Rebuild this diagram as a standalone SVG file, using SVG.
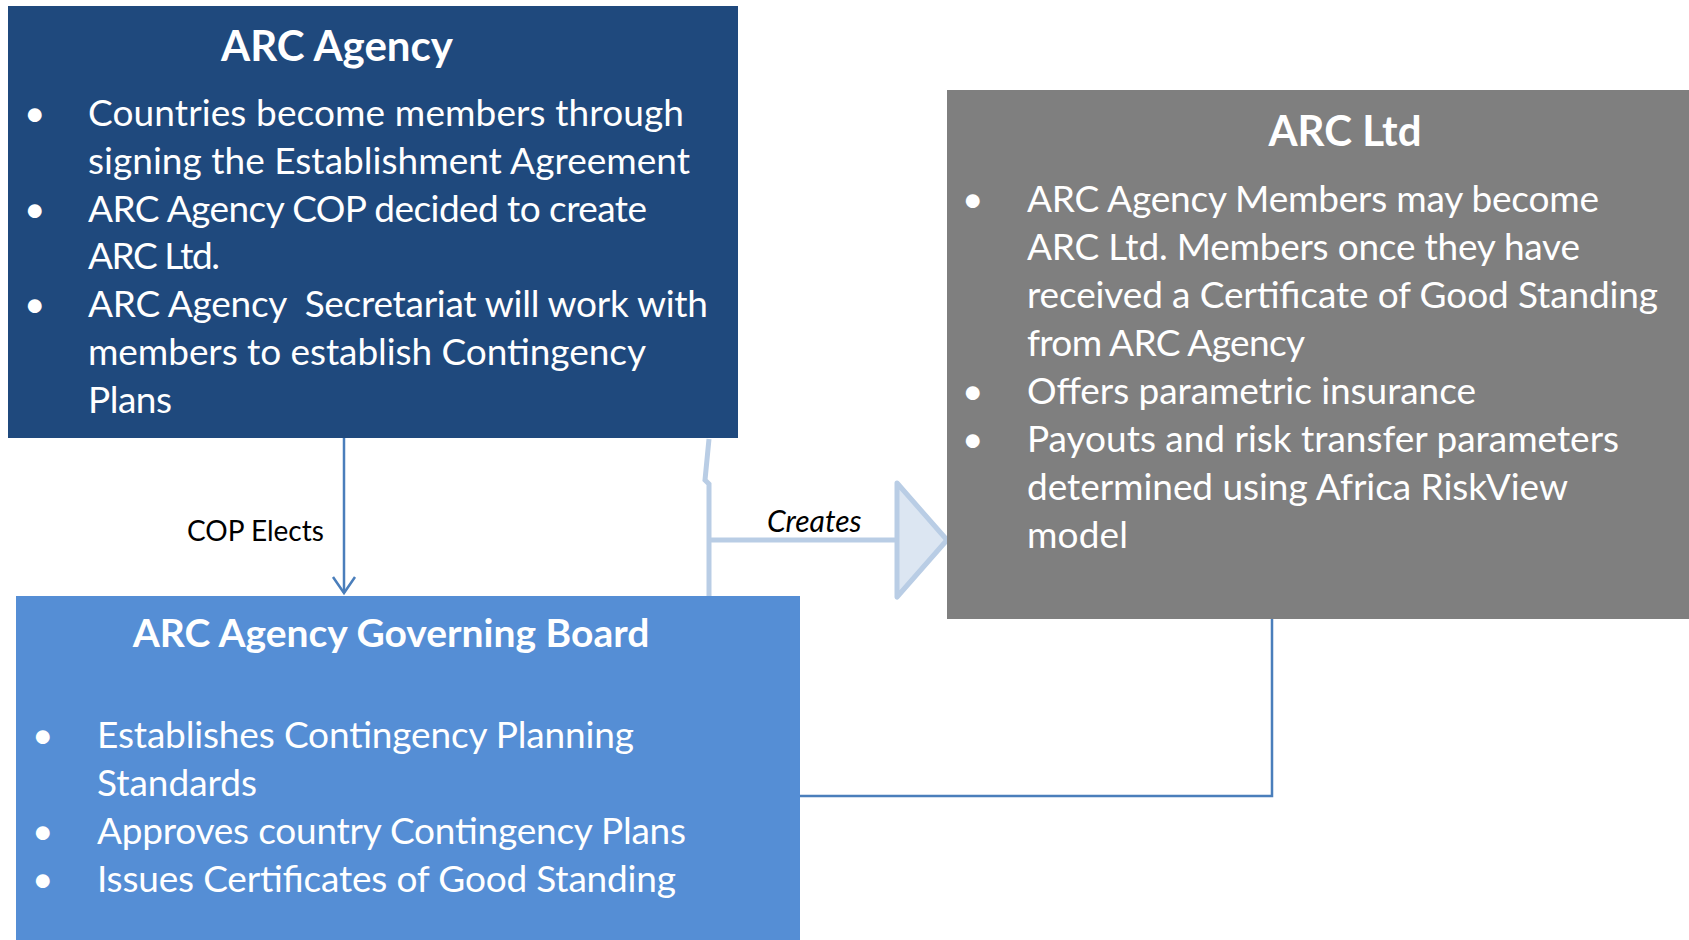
<svg xmlns="http://www.w3.org/2000/svg" width="1689" height="940" viewBox="0 0 1689 940">
<style>
.t{font-family:Lato,"Liberation Sans",sans-serif;fill:#ffffff}
.title{font-weight:bold;text-anchor:middle}
.body{font-size:37px}
.lbl{font-family:Lato,"Liberation Sans",sans-serif;fill:#000000}
.thin{fill:none;stroke:#4A7EBB;stroke-width:2.5}
.thick{fill:none;stroke:#B9CDE5;stroke-width:5}
</style>
<rect width="1689" height="940" fill="#ffffff"/>
<g id="connectors">
  <path class="thin" d="M344,438 L344,593"/>
  <path class="thin" d="M333,577 L344,593 L355,577"/>
  <path class="thick" d="M709,439 L705,480 L709,484 L709,596"/>
  <path class="thick" d="M709,540 L897,540"/>
  <polygon points="897,483 947,540 897,597" fill="#DCE6F2" stroke="#B9CDE5" stroke-width="5" stroke-linejoin="round"/>
  <path class="thin" d="M1272,619 L1272,796 L800,796" stroke-width="3"/>
  <text class="lbl" x="187" y="541" font-size="28">COP Elects</text>
  <text class="lbl" x="767" y="532" font-size="30" font-style="italic">Creates</text>
</g>
<g id="arc-agency">
  <rect x="8" y="6" width="730" height="432" fill="#1F497D"/>
  <text class="t title" x="337" y="61" font-size="42">ARC Agency</text>
  <g class="t body">
    <text x="24" y="126">•</text>
    <text x="88" y="126" textLength="596">Countries become members through</text>
    <text x="88" y="174" textLength="602">signing the Establishment Agreement</text>
    <text x="24" y="222">•</text>
    <text x="88" y="222" textLength="559">ARC Agency COP decided to create</text>
    <text x="88" y="269" textLength="132">ARC Ltd.</text>
    <text x="24" y="317">•</text>
    <text x="88" y="317" xml:space="preserve" textLength="620">ARC Agency  Secretariat will work with</text>
    <text x="88" y="365" textLength="558">members to establish Contingency</text>
    <text x="88" y="413" textLength="84">Plans</text>
  </g>
</g>
<g id="arc-ltd">
  <rect x="947" y="90" width="742" height="529" fill="#7F7F7F"/>
  <text class="t title" x="1345" y="146" font-size="42">ARC Ltd</text>
  <g class="t body">
    <text x="962" y="212">•</text>
    <text x="1027" y="212" textLength="572">ARC Agency Members may become</text>
    <text x="1027" y="260" textLength="553">ARC Ltd. Members once they have</text>
    <text x="1027" y="308" textLength="631">received a Certificate of Good Standing</text>
    <text x="1027" y="356" textLength="278">from ARC Agency</text>
    <text x="962" y="404">•</text>
    <text x="1027" y="404" textLength="449">Offers parametric insurance</text>
    <text x="962" y="452">•</text>
    <text x="1027" y="452" textLength="592">Payouts and risk transfer parameters</text>
    <text x="1027" y="500" textLength="541">determined using Africa RiskView</text>
    <text x="1027" y="548" textLength="101">model</text>
  </g>
</g>
<g id="governing-board">
  <rect x="16" y="596" width="784" height="344" fill="#558ED5"/>
  <text class="t title" x="391" y="647" font-size="39">ARC Agency Governing Board</text>
  <g class="t body">
    <text x="32" y="748">•</text>
    <text x="97" y="748" textLength="537">Establishes Contingency Planning</text>
    <text x="97" y="796" textLength="160">Standards</text>
    <text x="32" y="844">•</text>
    <text x="97" y="844" textLength="589">Approves country Contingency Plans</text>
    <text x="32" y="892">•</text>
    <text x="97" y="892" textLength="579">Issues Certificates of Good Standing</text>
  </g>
</g>
</svg>
